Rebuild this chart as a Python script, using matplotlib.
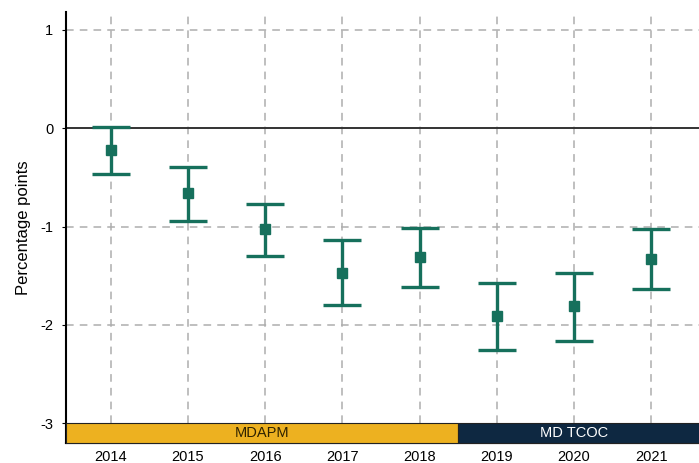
import matplotlib
matplotlib.use("Agg")
import matplotlib.pyplot as plt
from matplotlib.patches import Rectangle

years = [2014, 2015, 2016, 2017, 2018, 2019, 2020, 2021]
estimate = [-0.22, -0.66, -1.03, -1.47, -1.31, -1.91, -1.81, -1.33]
ci_upper = [0.01, -0.40, -0.77, -1.14, -1.01, -1.57, -1.47, -1.03]
ci_lower = [-0.47, -0.94, -1.30, -1.80, -1.61, -2.25, -2.16, -1.63]
y_ticks = [-3, -2, -1, 0, 1]
periods = [("MDAPM", 2013.42, 2018.5, "#EDB120", "#2e2200"),
           ("MD TCOC", 2018.5, 2021.62, "#0E2841", "#ffffff")]

plt.rcParams["font.family"] = ["Liberation Sans", "DejaVu Sans"]
teal = "#16705C"

fig = plt.figure(figsize=(6.99, 4.63), dpi=100)
ax = fig.add_axes([0.0944, 0.0432, 0.9056, 0.9308])

x_lo, x_hi = 2013.42, 2021.62
y_lo, y_hi = -3.2, 1.18
ax.set_xlim(x_lo, x_hi)
ax.set_ylim(y_lo, y_hi)

# dashed grid
for yv in y_ticks:
    if yv not in (0, -3):
        ax.axhline(yv, color="#adadad", lw=1.1, ls=(0, (5, 4)), zorder=1)
for xv in years:
    ax.plot([xv, xv], [-3.0, y_hi], color="#adadad", lw=1.1, ls=(0, (5, 4)), zorder=1)
ax.axhline(0, color="#333333", lw=1.4, zorder=2)

# point estimates with confidence intervals
yerr = [[e - l for e, l in zip(estimate, ci_lower)],
        [u - e for e, u in zip(estimate, ci_upper)]]
ax.errorbar(years, estimate, yerr=yerr, fmt="s", color=teal, ecolor=teal,
            elinewidth=2.4, capsize=14, capthick=2.4, markersize=7.5, zorder=4)

# period bands along the bottom
for label, x0, x1, fc, tc in periods:
    ax.add_patch(Rectangle((x0, -3.2), x1 - x0, 0.2, facecolor=fc,
                           edgecolor="#222222", lw=0.8, zorder=3, clip_on=False))
    xc = (x0 + min(x1, 2021.5)) / 2 if label == "MD TCOC" else (x0 + x1) / 2
    ax.text(xc, -3.1, label, ha="center", va="center", fontsize=10.5,
            color=tc, zorder=5)

ax.set_xticks(years)
ax.set_xticklabels([str(y) for y in years])
ax.set_yticks(y_ticks)
ax.set_yticklabels([str(v) for v in y_ticks])
ax.tick_params(axis="x", length=0, labelsize=10.5, pad=5)
ax.tick_params(axis="y", length=3, width=0.8, labelsize=10.5, pad=6)
ax.set_ylabel("Percentage points", fontsize=12, labelpad=7)

for side in ("top", "right"):
    ax.spines[side].set_visible(False)
ax.spines["left"].set_linewidth(1.5)
ax.spines["bottom"].set_linewidth(1.5)

fig.savefig("out.png", dpi=100)
